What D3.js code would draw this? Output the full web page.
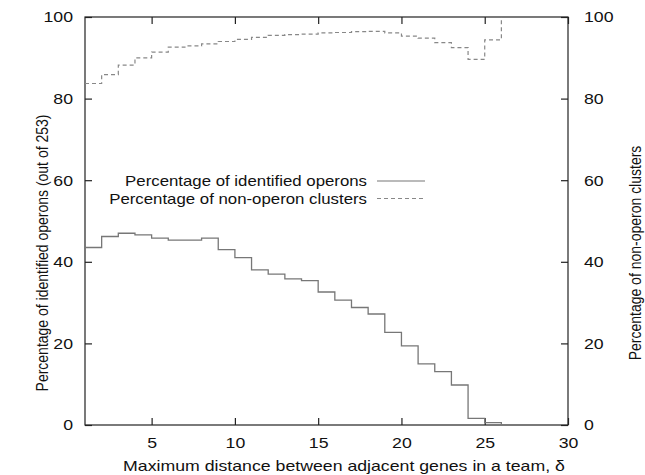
<!DOCTYPE html>
<html><head><meta charset="utf-8">
<script src="https://cdn.jsdelivr.net/npm/d3@7"></script>
<style>body{margin:0;background:#fff}svg{display:block}text{font-family:"Liberation Sans",Arial,sans-serif;fill:#111}</style>
</head><body><svg id="c" width="645" height="475"></svg>
<script>
const delta = d3.range(1, 27);
const operons = [43.5,46.2,47.0,46.6,45.8,45.3,45.3,45.8,43.0,41.0,38.0,37.0,35.8,35.4,32.6,30.6,28.8,27.2,22.7,19.4,15.0,13.1,9.8,1.6,0.6,0];
const nonOperon = [83.7,85.9,88.2,90.0,91.4,92.6,92.9,93.4,94.0,94.5,95.0,95.5,95.7,95.8,96.1,96.2,96.4,96.5,96.1,95.3,94.8,93.7,92.5,89.6,94.4,100];
const xTicks = [5,10,15,20,25,30];
const yTicks = [0,20,40,60,80,100];
const labels = {
  x: "Maximum distance between adjacent genes in a team, δ",
  yLeft: "Percentage of identified operons (out of 253)",
  yRight: "Percentage of non-operon clusters",
  s1: "Percentage of identified operons",
  s2: "Percentage of non-operon clusters"
};

const svg = d3.select("#c");
const L = 85, R = 568, T = 17, B = 425;
const x = d3.scaleLinear().domain([1, 30]).range([L, R]);
const y = d3.scaleLinear().domain([0, 100]).range([B, T]);
const fs = 15;
const stretch = 1.18;

function widen(sel, k) {
  sel.each(function () {
    const w = this.getComputedTextLength();
    d3.select(this).attr("textLength", w * k).attr("lengthAdjust", "spacingAndGlyphs");
  });
}

svg.append("rect").attr("x", L).attr("y", T).attr("width", R - L).attr("height", B - T)
  .attr("fill", "none").attr("stroke", "#222").attr("stroke-width", 1.2);

function ax(gen, tx, ty) {
  const g = svg.append("g").attr("transform", `translate(${tx},${ty})`).call(gen);
  g.select(".domain").remove();
  g.selectAll("line").attr("stroke", "#222").attr("stroke-width", 1.2);
  g.selectAll("text").style("font-size", fs + "px").attr("fill", "#111").call(widen, stretch);
  return g;
}
ax(d3.axisBottom(x).tickValues(xTicks).tickSize(-7).tickPadding(12), 0, B);
ax(d3.axisTop(x).tickValues(xTicks).tickSize(-7).tickFormat(""), 0, T);
ax(d3.axisLeft(y).tickValues(yTicks).tickSize(-7).tickPadding(12), L, 0);
ax(d3.axisRight(y).tickValues(yTicks).tickSize(-7).tickPadding(16), R, 0);

const line = (vals) => d3.line().x((d, i) => x(delta[i])).y(d => y(d)).curve(d3.curveStepAfter)(vals);
svg.append("path").attr("d", line(operons)).attr("fill", "none").attr("stroke", "#777").attr("stroke-width", 1.3);
svg.append("path").attr("d", line(nonOperon)).attr("fill", "none").attr("stroke", "#888")
  .attr("stroke-width", 1.2).attr("stroke-dasharray", "4,3");

const lg = svg.append("g");
[[labels.s1, null, "#777"], [labels.s2, "4,3", "#888"]].forEach((s, i) => {
  const yy = 181 + i * 17.5;
  lg.append("text").attr("x", 367).attr("y", yy).attr("dy", "0.35em").attr("text-anchor", "end")
    .style("font-size", fs + "px").text(s[0]).call(widen, 1.12);
  lg.append("line").attr("x1", 377).attr("x2", 425).attr("y1", yy).attr("y2", yy)
    .attr("stroke", s[2]).attr("stroke-width", 1.2).attr("stroke-dasharray", s[1]);
});

svg.append("text").attr("x", 344).attr("y", 471).attr("text-anchor", "middle").style("font-size", fs + "px")
  .text(labels.x).call(widen, stretch);
svg.append("text").attr("transform", "translate(48,253) scale(1.2,1) rotate(-90)").attr("text-anchor", "middle").style("font-size", "14px").text(labels.yLeft);
svg.append("text").attr("transform", "translate(641,253) scale(1.2,1) rotate(-90)").attr("text-anchor", "middle").style("font-size", "14px").text(labels.yRight);
</script></body></html>
